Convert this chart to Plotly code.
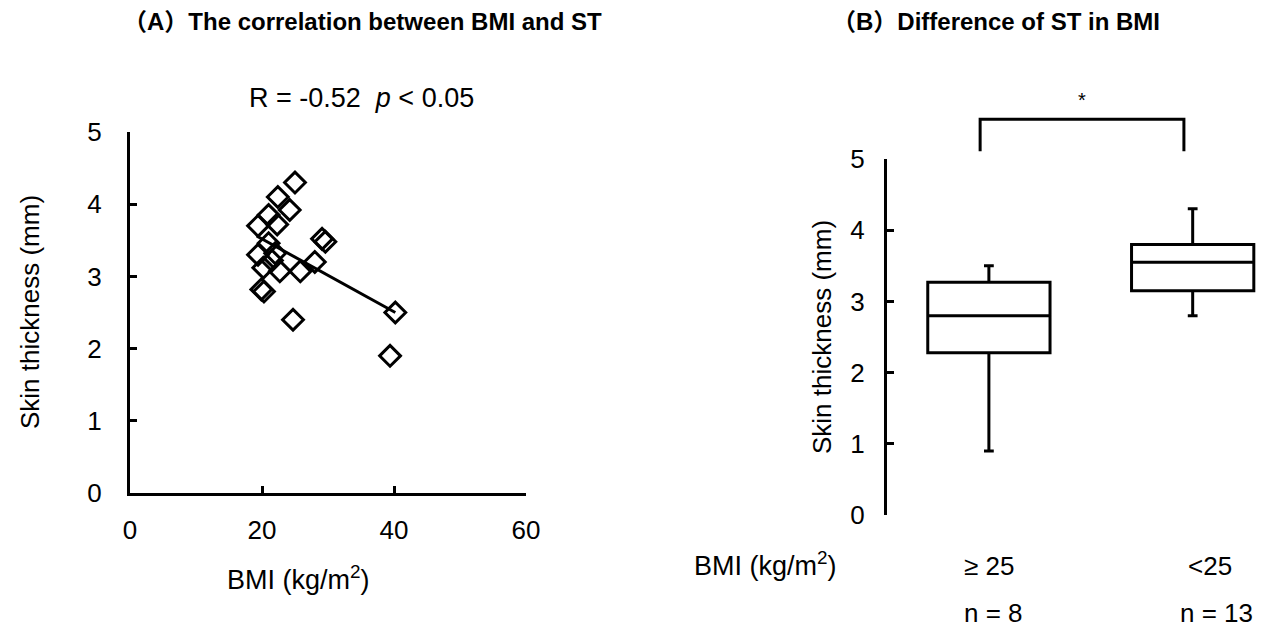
import plotly.graph_objects as go

# ---------------- data ----------------
# Panel A: BMI vs skin thickness (ST)
bmi = [25.0, 22.4, 24.2, 21.0, 19.4, 22.3, 29.1, 29.6, 21.0, 19.4, 22.0,
       28.0, 25.8, 22.7, 20.2, 21.5, 19.9, 20.3, 24.7, 40.2, 39.4]
st = [4.30, 4.10, 3.92, 3.85, 3.70, 3.72, 3.52, 3.48, 3.46, 3.30, 3.32,
      3.20, 3.07, 3.07, 3.12, 3.22, 2.82, 2.79, 2.40, 2.50, 1.90]
fit_bmi = [19.2, 40.2]
fit_st = [3.56, 2.50]
corr_text = "R = -0.52\u00a0\u00a0<i>p</i> &lt; 0.05"

# Panel B: ST by BMI group
groups = ["≥ 25", "&lt;25"]
group_n = ["n = 8", "n = 13"]
group_pos = [0, 1]
box_low = [0.90, 2.80]
box_q1 = [2.28, 3.15]
box_median = [2.80, 3.55]
box_q3 = [3.27, 3.80]
box_high = [3.50, 4.30]
sig_low, sig_high = 5.11, 5.56
sig_label = "*"

axis_ticks_a_x = [0, 20, 40, 60]
axis_ticks_y = [0, 1, 2, 3, 4, 5]

# ---------------- layout helpers ----------------
W, H = 1267, 630
def px(x):
    return x / W
def py(y):
    return 1 - y / H

FONT = "Liberation Sans, Arial, Noto Sans CJK JP, sans-serif"
BLACK = "black"

fig = go.Figure()

# Panel A scatter
fig.add_trace(go.Scatter(
    x=bmi, y=st, mode="markers",
    marker=dict(symbol="diamond-open", size=16, color=BLACK,
                line=dict(color=BLACK, width=3)),
    xaxis="x", yaxis="y", showlegend=False, hoverinfo="x+y",
    cliponaxis=False))
fig.add_trace(go.Scatter(
    x=fit_bmi, y=fit_st, mode="lines",
    line=dict(color=BLACK, width=3),
    xaxis="x", yaxis="y", showlegend=False))

# Panel B box plot
fig.add_trace(go.Box(
    x=group_pos, q1=box_q1, median=box_median, q3=box_q3,
    lowerfence=box_low, upperfence=box_high,
    width=0.6, whiskerwidth=0.08, boxpoints=False,
    fillcolor="white", line=dict(color=BLACK, width=3),
    xaxis="x2", yaxis="y2", showlegend=False))

# significance bracket
shift = -0.043
bx = [group_pos[0] + shift, group_pos[0] + shift,
      group_pos[1] + shift, group_pos[1] + shift]
by = [sig_low, sig_high, sig_high, sig_low]
fig.add_trace(go.Scatter(
    x=bx, y=by, mode="lines", line=dict(color=BLACK, width=3),
    xaxis="x2", yaxis="y3", showlegend=False, hoverinfo="skip"))

axis_common = dict(showline=True, linewidth=3, linecolor=BLACK,
                   ticks="inside", ticklen=7, tickwidth=3, tickcolor=BLACK,
                   showgrid=False, zeroline=False, automargin=False,
                   tickfont=dict(family=FONT, size=26, color=BLACK))

ann = []
def add_text(text, x, y, size=26, xref="paper", yref="paper",
             xanchor="center", yanchor="middle", angle=0):
    ann.append(dict(text=text, x=x, y=y, xref=xref, yref=yref,
                    xanchor=xanchor, yanchor=yanchor, showarrow=False,
                    textangle=angle,
                    font=dict(family=FONT, size=size, color=BLACK)))

add_text("<b>（A）The correlation between BMI and ST</b>", px(121), py(22),
         size=24, xanchor="left")
add_text("<b>（B）Difference of ST in BMI</b>", px(830), py(22),
         size=24, xanchor="left")
add_text(corr_text, px(361), py(98), size=27)
add_text("BMI (kg/m<sup>2</sup>)", px(298), py(578), size=27)
add_text("Skin thickness (mm)", px(30), py(312), angle=-90)
add_text("Skin thickness (mm)", px(822), py(337), angle=-90)
add_text("BMI (kg/m<sup>2</sup>)", px(765), py(564), size=27)

label_shift = [0.0, 0.083]
n_shift = [0.025, 0.118]
for g, n, p, ls, ns in zip(groups, group_n, group_pos, label_shift, n_shift):
    add_text(g, p + ls, py(566), xref="x2")
    add_text(n, p + ns, py(613), xref="x2")
add_text(sig_label, (bx[0] + bx[2]) / 2, 5.83, size=20, xref="x2", yref="y3")

fig.update_layout(
    template="none",
    width=W, height=H, autosize=False,
    margin=dict(l=0, r=0, t=0, b=0, pad=0),
    paper_bgcolor="white", plot_bgcolor="white",
    font=dict(family=FONT, color=BLACK),
    showlegend=False,
    xaxis=dict(domain=[px(130), px(526)], range=[0, 60],
               tickvals=axis_ticks_a_x, anchor="y",
               ticklabelstandoff=12, **axis_common),
    yaxis=dict(domain=[py(493), py(132)], range=[0, 5],
               tickvals=axis_ticks_y, anchor="x",
               ticklabelstandoff=20, **axis_common),
    xaxis2=dict(domain=[px(887), px(1264)], range=[-0.5, 1.35],
                visible=False, anchor="y2", automargin=False),
    yaxis2=dict(domain=[py(515), py(159)], range=[0, 5],
                tickvals=axis_ticks_y, anchor="x2",
                ticklabelstandoff=14, **axis_common),
    yaxis3=dict(domain=[py(159), py(87.8)], range=[5, 6],
                visible=False, anchor="x2", automargin=False),
    annotations=ann,
)

fig.write_html(
    "out.html",
    config={"displayModeBar": False},
    post_script="document.body.style.margin='0';document.body.style.overflow='hidden';",
)
